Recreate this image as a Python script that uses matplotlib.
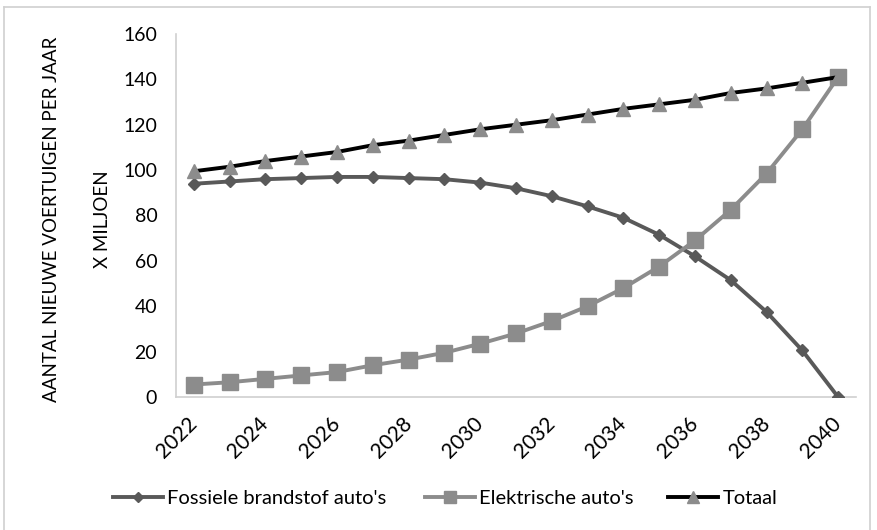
import matplotlib.pyplot as plt
import matplotlib.transforms as mtransforms
from matplotlib.lines import Line2D

years = list(range(2022, 2041))
fossiel = [94, 95, 96, 96.5, 97, 97, 96.5, 96, 94.5, 92, 88.5, 84, 79, 71.5, 62, 51.5, 37.5, 20.5, 0]
elektrisch = [5.5, 6.5, 8, 9.5, 11, 14, 16.5, 19.5, 23.5, 28, 33.5, 40, 48, 57.5, 69, 82.5, 98.5, 118, 141]
totaal = [99.5, 101.5, 104, 106, 108, 111, 113, 115.5, 118, 120, 122, 124.5, 127, 129, 131, 134, 136, 138.5, 141]
tick_years = years[::2]

plt.rcParams['font.family'] = ['Lato', 'DejaVu Sans']
W, H = 877, 530

fig = plt.figure(figsize=(W / 100, H / 100), dpi=100)
ax = fig.add_axes([176 / W, 1 - 397 / H, (856 - 176) / W, (397 - 34) / H])

# light frame around the whole chart (open at the bottom)
for xs, ys in [([0.004, 0.004], [0, 0.987]), ([0.004, 0.992], [0.987, 0.987]), ([0.992, 0.992], [0.987, 0])]:
    fig.add_artist(Line2D(xs, ys, transform=fig.transFigure, color='#d0d0d0', lw=1.2))

ax.plot(years, fossiel, color='#595959', lw=2.8, marker='D', ms=6.5,
        label="Fossiele brandstof auto's", zorder=3)
ax.plot(years, elektrisch, color='#8c8c8c', lw=2.8, marker='s', ms=11,
        label="Elektrische auto's", zorder=3)
ax.plot(years, totaal, color='black', lw=2.8, marker='^', ms=10,
        markerfacecolor='#8c8c8c', markeredgecolor='#8c8c8c',
        label='Totaal', zorder=4)

ax.set_xlim(2021.5, 2040.5)
ax.set_ylim(0, 160)
ax.set_yticks(range(0, 161, 20))
ax.set_xticks(tick_years)
ax.set_xticklabels([str(y) for y in tick_years], rotation=45, ha='right', va='center',
                   rotation_mode='anchor', fontsize=15)
shift = mtransforms.ScaledTranslation(5 / 100, 0, fig.dpi_scale_trans)
for lbl in ax.get_xticklabels():
    lbl.set_transform(lbl.get_transform() + shift)
ax.tick_params(axis='y', labelsize=14, length=0, pad=13.5)
ax.tick_params(axis='x', length=0, pad=17)
for side in ['top', 'right']:
    ax.spines[side].set_visible(False)
for side in ['left', 'bottom']:
    ax.spines[side].set_color('#d0d0d0')
    ax.spines[side].set_linewidth(1.2)

fig.text(52 / W, 1 - 219 / H, 'AANTAL NIEUWE VOERTUIGEN PER JAAR', rotation=90,
         ha='center', va='center', fontsize=13.5)
fig.text(103 / W, 1 - 219 / H, 'X MILJOEN', rotation=90, ha='center', va='center',
         fontsize=13.5)

# one legend per series so each entry sits at its own spot along the bottom
handles, labels = ax.get_legend_handles_labels()
for h, l, x0 in zip(handles, labels, [113, 425, 668]):
    fig.legend([h], [l], loc='center left', bbox_to_anchor=(x0 / W, 1 - 498 / H),
               frameon=False, fontsize=14.5, handlelength=2.5, handletextpad=0.2,
               borderpad=0, borderaxespad=0, markerscale=0.8)

fig.savefig('out.png', dpi=100)
